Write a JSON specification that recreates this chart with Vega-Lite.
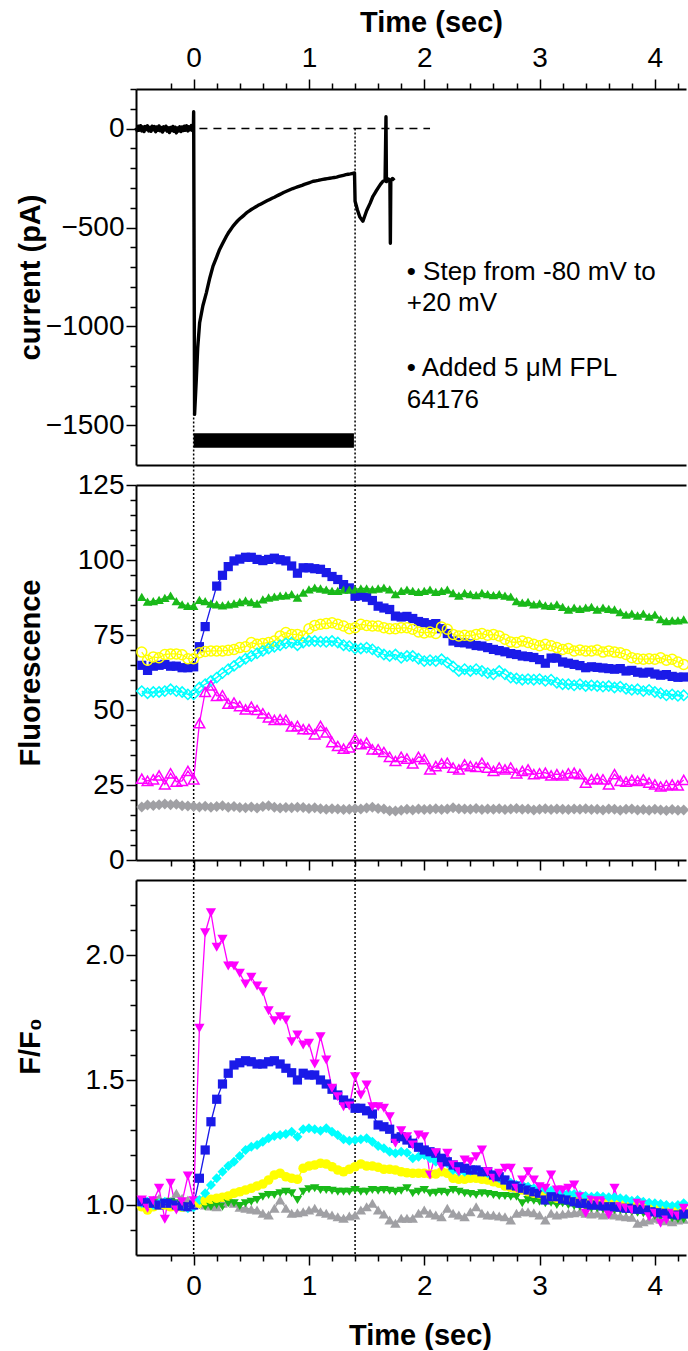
{
  "$schema": "https://vega.github.io/schema/vega-lite/v6.json",
  "padding": {"left": 16, "top": 8, "right": 0, "bottom": 0},
  "background": "white",
  "spacing": 20,
  "bounds": "flush",
  "resolve": {"scale": {"shape": "independent", "size": "independent"}},
  "config": {
    "font": "Liberation Sans",
    "view": {"stroke": null},
    "axis": {
      "grid": false,
      "domainColor": "black",
      "domainWidth": 2,
      "tickColor": "black",
      "tickWidth": 1.5,
      "labelColor": "black",
      "titleColor": "black",
      "labelFont": "Liberation Sans",
      "titleFont": "Liberation Sans",
      "labelFontSize": 28,
      "titleFontSize": 29,
      "titleFontWeight": "bold",
      "labelFlush": false,
      "labelOverlap": false
    }
  },
  "datasets": {
    "cur": [
      {"t": -0.5, "I": 5}, {"t": -0.49, "I": -10}, {"t": -0.48, "I": 12}, {"t": -0.47, "I": -8}, {"t": -0.46, "I": 15},
      {"t": -0.45, "I": -12}, {"t": -0.44, "I": 8}, {"t": -0.43, "I": -15}, {"t": -0.42, "I": 10}, {"t": -0.41, "I": -5},
      {"t": -0.4, "I": 14}, {"t": -0.39, "I": -12}, {"t": -0.38, "I": 6}, {"t": -0.37, "I": -14}, {"t": -0.36, "I": 12},
      {"t": -0.35, "I": -6}, {"t": -0.34, "I": 10}, {"t": -0.33, "I": -16}, {"t": -0.32, "I": 8}, {"t": -0.31, "I": -9},
      {"t": -0.3, "I": 13}, {"t": -0.29, "I": -11}, {"t": -0.28, "I": 5}, {"t": -0.27, "I": -18}, {"t": -0.26, "I": 9},
      {"t": -0.25, "I": -7}, {"t": -0.24, "I": 12}, {"t": -0.23, "I": -13}, {"t": -0.22, "I": 4}, {"t": -0.21, "I": -20},
      {"t": -0.2, "I": 6}, {"t": -0.19, "I": -10}, {"t": -0.18, "I": 11}, {"t": -0.17, "I": -14}, {"t": -0.16, "I": 7},
      {"t": -0.15, "I": -22}, {"t": -0.14, "I": 3}, {"t": -0.13, "I": -12}, {"t": -0.12, "I": 9}, {"t": -0.11, "I": -15},
      {"t": -0.1, "I": 8}, {"t": -0.09, "I": -10}, {"t": -0.08, "I": 12}, {"t": -0.07, "I": -8}, {"t": -0.06, "I": 14},
      {"t": -0.05, "I": -12}, {"t": -0.04, "I": 9}, {"t": -0.03, "I": -6}, {"t": -0.02, "I": 15}, {"t": -0.01, "I": -10},
      {"t": -0.002, "I": 5}, {"t": 0, "I": 85}, {"t": 0.008, "I": -1444}, {"t": 0.023, "I": -1268}, {"t": 0.035, "I": -1110},
      {"t": 0.052, "I": -981}, {"t": 0.08, "I": -895}, {"t": 0.11, "I": -830}, {"t": 0.14, "I": -755}, {"t": 0.168, "I": -695},
      {"t": 0.2, "I": -648}, {"t": 0.225, "I": -611}, {"t": 0.25, "I": -582}, {"t": 0.284, "I": -544},
      {"t": 0.30, "I": -528}, {"t": 0.32, "I": -511}, {"t": 0.34, "I": -494}, {"t": 0.36, "I": -480}, {"t": 0.38, "I": -467},
      {"t": 0.40, "I": -456}, {"t": 0.42, "I": -446}, {"t": 0.44, "I": -436}, {"t": 0.46, "I": -425}, {"t": 0.48, "I": -417},
      {"t": 0.50, "I": -409}, {"t": 0.52, "I": -402}, {"t": 0.54, "I": -395}, {"t": 0.56, "I": -388}, {"t": 0.58, "I": -382},
      {"t": 0.60, "I": -376}, {"t": 0.62, "I": -370}, {"t": 0.64, "I": -364}, {"t": 0.66, "I": -358}, {"t": 0.68, "I": -352},
      {"t": 0.70, "I": -347}, {"t": 0.72, "I": -341}, {"t": 0.74, "I": -335}, {"t": 0.76, "I": -329}, {"t": 0.78, "I": -323},
      {"t": 0.80, "I": -318}, {"t": 0.82, "I": -313}, {"t": 0.84, "I": -308}, {"t": 0.86, "I": -303}, {"t": 0.88, "I": -299},
      {"t": 0.90, "I": -295}, {"t": 0.92, "I": -291}, {"t": 0.94, "I": -287}, {"t": 0.96, "I": -282}, {"t": 0.98, "I": -278},
      {"t": 1.00, "I": -274}, {"t": 1.02, "I": -270}, {"t": 1.04, "I": -266}, {"t": 1.06, "I": -264}, {"t": 1.08, "I": -262},
      {"t": 1.10, "I": -259}, {"t": 1.12, "I": -257}, {"t": 1.14, "I": -255}, {"t": 1.16, "I": -253}, {"t": 1.18, "I": -251},
      {"t": 1.20, "I": -249}, {"t": 1.22, "I": -247}, {"t": 1.24, "I": -245}, {"t": 1.26, "I": -242}, {"t": 1.28, "I": -239},
      {"t": 1.30, "I": -236}, {"t": 1.32, "I": -233}, {"t": 1.34, "I": -231}, {"t": 1.36, "I": -229}, {"t": 1.38, "I": -226},
      {"t": 1.395, "I": -224}, {"t": 1.4, "I": -367}, {"t": 1.42, "I": -410}, {"t": 1.44, "I": -445}, {"t": 1.468, "I": -468},
      {"t": 1.5, "I": -415}, {"t": 1.53, "I": -378}, {"t": 1.555, "I": -342}, {"t": 1.58, "I": -318}, {"t": 1.6, "I": -300},
      {"t": 1.62, "I": -282}, {"t": 1.642, "I": -266}, {"t": 1.66, "I": -262}, {"t": 1.668, "I": 60}, {"t": 1.672, "I": -268},
      {"t": 1.69, "I": -255}, {"t": 1.702, "I": -262}, {"t": 1.706, "I": -580}, {"t": 1.71, "I": -262}, {"t": 1.725, "I": -252},
      {"t": 1.74, "I": -262}
    ],
    "zeroline": [{"t": 0.05, "I": 0}, {"t": 2.05, "I": 0}],
    "bar": [{"t1": 0, "t2": 1.39, "y1": -1540, "y2": -1613}],
    "notes": [
      {"t": 1.848, "I": -723, "label": "• Step from -80 mV to"},
      {"t": 1.848, "I": -881, "label": "+20 mV"},
      {"t": 1.848, "I": -1210, "label": "• Added 5 μM FPL"},
      {"t": 1.848, "I": -1372, "label": "64176"}
    ],
    "rulesTop": [{"t": 0, "y1": -1440, "y2": -1801}, {"t": 1.4, "y1": 0, "y2": -1801}],
    "rulesMid": [{"t": 0, "y1": 125, "y2": -6.7}, {"t": 1.4, "y1": 125, "y2": -6.7}],
    "rulesBot": [{"t": 0, "y1": 2.3, "y2": 0.8}, {"t": 1.4, "y1": 2.3, "y2": 0.8}],
    "fl": [
      {"t": -0.45, "blue": 64.9, "green": 87.7, "yellow": 69.3, "cyan": 56.3, "magenta": 27.1, "gray": 17.7},
      {"t": -0.40, "blue": 63.2, "green": 86.1, "yellow": 66.6, "cyan": 55.6, "magenta": 26.4, "gray": 18.3},
      {"t": -0.35, "blue": 64.6, "green": 86.3, "yellow": 67.7, "cyan": 56.0, "magenta": 26.9, "gray": 18.2},
      {"t": -0.30, "blue": 64.9, "green": 86.7, "yellow": 67.4, "cyan": 56.0, "magenta": 28.2, "gray": 18.4},
      {"t": -0.25, "blue": 65.2, "green": 87.4, "yellow": 68.5, "cyan": 56.3, "magenta": 25.2, "gray": 18.7},
      {"t": -0.20, "blue": 64.6, "green": 88.1, "yellow": 68.7, "cyan": 56.9, "magenta": 28.9, "gray": 18.4},
      {"t": -0.15, "blue": 64.6, "green": 86.3, "yellow": 68.7, "cyan": 56.3, "magenta": 26.1, "gray": 18.6},
      {"t": -0.10, "blue": 64.1, "green": 85.2, "yellow": 68.4, "cyan": 56.0, "magenta": 26.4, "gray": 18.1},
      {"t": -0.05, "blue": 64.1, "green": 84.7, "yellow": 67.1, "cyan": 55.2, "magenta": 29.7, "gray": 18.0},
      {"t": 0.00, "blue": 64.4, "green": 84.7, "yellow": 67.1, "cyan": 55.2, "magenta": 26.9, "gray": 17.8},
      {"t": 0.05, "blue": 71.1, "green": 86.7, "yellow": 69.1, "cyan": 57.5, "magenta": 45.6, "gray": 17.7},
      {"t": 0.10, "blue": 77.8, "green": 86.3, "yellow": 69.5, "cyan": 58.6, "magenta": 56.0, "gray": 17.9},
      {"t": 0.15, "green": 85.5, "yellow": 69.7, "cyan": 59.7, "magenta": 58.2, "gray": 17.6},
      {"t": 0.20, "blue": 91.3, "green": 85.2, "yellow": 69.7, "cyan": 60.8, "magenta": 54.7, "gray": 17.8},
      {"t": 0.25, "blue": 94.9, "green": 84.9, "yellow": 69.7, "cyan": 62.3, "magenta": 54.9, "gray": 18.1},
      {"t": 0.30, "blue": 97.8, "green": 85.2, "yellow": 69.9, "cyan": 63.6, "magenta": 52.1, "gray": 17.6},
      {"t": 0.35, "blue": 99.7, "green": 85.5, "yellow": 70.2, "cyan": 64.7, "magenta": 52.5, "gray": 17.8},
      {"t": 0.40, "blue": 100.3, "green": 86.0, "yellow": 70.8, "cyan": 66.0, "magenta": 51.3, "gray": 17.5},
      {"t": 0.45, "blue": 100.9, "green": 86.5, "yellow": 71.1, "cyan": 67.1, "magenta": 50.2, "gray": 17.4},
      {"t": 0.50, "blue": 100.9, "green": 86.0, "yellow": 72.5, "cyan": 68.0, "magenta": 51.1, "gray": 17.7},
      {"t": 0.55, "blue": 100.2, "green": 85.5, "yellow": 71.9, "cyan": 68.9, "magenta": 50.0, "gray": 17.3},
      {"t": 0.60, "blue": 99.8, "green": 86.9, "yellow": 72.2, "cyan": 69.7, "magenta": 48.9, "gray": 17.8},
      {"t": 0.65, "blue": 100.2, "green": 87.5, "yellow": 72.5, "cyan": 70.5, "magenta": 47.5, "gray": 18.1},
      {"t": 0.70, "blue": 100.6, "green": 87.8, "yellow": 73.0, "cyan": 71.1, "magenta": 46.7, "gray": 17.6},
      {"t": 0.75, "blue": 100.1, "green": 88.1, "yellow": 74.7, "cyan": 71.6, "magenta": 46.9, "gray": 17.3},
      {"t": 0.80, "blue": 99.7, "green": 88.2, "yellow": 75.8, "cyan": 72.2, "magenta": 46.7, "gray": 17.5},
      {"t": 0.85, "blue": 98.0, "green": 88.6, "yellow": 75.2, "cyan": 72.5, "magenta": 44.5, "gray": 17.4},
      {"t": 0.90, "blue": 95.6, "green": 87.5, "yellow": 75.2, "cyan": 71.6, "magenta": 44.7, "gray": 17.6},
      {"t": 0.95, "blue": 97.4, "green": 89.1, "yellow": 74.7, "cyan": 72.5, "magenta": 43.6, "gray": 17.5},
      {"t": 1.00, "blue": 97.4, "green": 90.2, "yellow": 77.1, "cyan": 73.0, "magenta": 43.6, "gray": 17.2},
      {"t": 1.05, "blue": 97.1, "green": 90.8, "yellow": 78.2, "cyan": 73.0, "magenta": 41.9, "gray": 17.4},
      {"t": 1.10, "blue": 96.9, "green": 90.5, "yellow": 78.6, "cyan": 72.8, "magenta": 44.7, "gray": 17.1},
      {"t": 1.15, "blue": 95.8, "green": 90.1, "yellow": 78.8, "cyan": 72.7, "magenta": 42.5, "gray": 16.9},
      {"t": 1.20, "blue": 94.5, "green": 89.7, "yellow": 79.1, "cyan": 73.0, "magenta": 39.3, "gray": 17.1},
      {"t": 1.25, "blue": 93.5, "green": 89.7, "yellow": 78.6, "cyan": 72.5, "magenta": 38.0, "gray": 17.0},
      {"t": 1.30, "blue": 91.8, "green": 90.1, "yellow": 78.0, "cyan": 71.6, "magenta": 37.1, "gray": 16.8},
      {"t": 1.35, "blue": 90.7, "green": 90.1, "yellow": 77.1, "cyan": 71.3, "magenta": 37.5, "gray": 16.9},
      {"t": 1.40, "blue": 87.9, "green": 90.2, "yellow": 77.4, "cyan": 70.5, "magenta": 40.5, "gray": 17.1},
      {"t": 1.45, "blue": 88.1, "green": 90.5, "yellow": 78.6, "cyan": 70.5, "magenta": 38.6, "gray": 17.0},
      {"t": 1.50, "blue": 87.6, "green": 90.5, "yellow": 78.2, "cyan": 70.8, "magenta": 39.1, "gray": 17.3},
      {"t": 1.55, "blue": 86.5, "green": 90.2, "yellow": 78.0, "cyan": 70.2, "magenta": 36.9, "gray": 17.6},
      {"t": 1.60, "blue": 84.6, "green": 90.5, "yellow": 78.0, "cyan": 69.3, "magenta": 36.9, "gray": 17.2},
      {"t": 1.65, "blue": 84.0, "green": 90.8, "yellow": 77.4, "cyan": 68.5, "magenta": 36.0, "gray": 17.0},
      {"t": 1.70, "blue": 83.5, "green": 90.2, "yellow": 77.1, "cyan": 68.0, "magenta": 34.4, "gray": 16.4},
      {"t": 1.75, "blue": 81.3, "green": 88.6, "yellow": 77.1, "cyan": 68.5, "magenta": 33.0, "gray": 16.3},
      {"t": 1.80, "blue": 81.0, "green": 89.7, "yellow": 77.4, "cyan": 67.4, "magenta": 34.4, "gray": 16.6},
      {"t": 1.85, "blue": 81.2, "green": 90.1, "yellow": 77.4, "cyan": 68.0, "magenta": 33.8, "gray": 16.9},
      {"t": 1.90, "blue": 80.5, "green": 89.7, "yellow": 76.9, "cyan": 68.0, "magenta": 32.2, "gray": 16.7},
      {"t": 1.95, "blue": 79.5, "green": 89.4, "yellow": 76.0, "cyan": 67.1, "magenta": 34.4, "gray": 17.0},
      {"t": 2.00, "blue": 79.1, "green": 89.7, "yellow": 75.7, "cyan": 66.3, "magenta": 33.6, "gray": 16.8},
      {"t": 2.05, "blue": 78.5, "green": 90.1, "yellow": 76.0, "cyan": 66.6, "magenta": 30.2, "gray": 16.9},
      {"t": 2.10, "blue": 78.8, "green": 89.4, "yellow": 75.5, "cyan": 66.3, "magenta": 31.3, "gray": 17.1},
      {"t": 2.15, "blue": 77.1, "green": 89.7, "yellow": 77.7, "cyan": 66.9, "magenta": 32.2, "gray": 16.8},
      {"t": 2.20, "blue": 75.5, "green": 90.1, "yellow": 76.9, "cyan": 65.8, "magenta": 32.4, "gray": 17.0},
      {"t": 2.25, "blue": 73.0, "green": 89.0, "yellow": 75.2, "cyan": 64.5, "magenta": 30.8, "gray": 17.4},
      {"t": 2.30, "blue": 72.5, "green": 88.1, "yellow": 74.7, "cyan": 63.0, "magenta": 30.2, "gray": 17.1},
      {"t": 2.35, "blue": 72.4, "green": 89.0, "yellow": 74.9, "cyan": 63.6, "magenta": 31.9, "gray": 17.0},
      {"t": 2.40, "blue": 72.0, "green": 88.6, "yellow": 74.7, "cyan": 63.0, "magenta": 31.3, "gray": 16.9},
      {"t": 2.45, "blue": 71.5, "green": 88.3, "yellow": 75.2, "cyan": 63.6, "magenta": 31.0, "gray": 17.2},
      {"t": 2.50, "blue": 71.3, "green": 89.0, "yellow": 75.5, "cyan": 63.0, "magenta": 32.4, "gray": 16.8},
      {"t": 2.55, "blue": 70.8, "green": 88.6, "yellow": 74.9, "cyan": 62.3, "magenta": 30.8, "gray": 17.0},
      {"t": 2.60, "blue": 70.2, "green": 88.3, "yellow": 75.2, "cyan": 61.9, "magenta": 29.7, "gray": 16.9},
      {"t": 2.65, "blue": 69.8, "green": 88.6, "yellow": 74.7, "cyan": 63.0, "magenta": 30.8, "gray": 17.1},
      {"t": 2.70, "blue": 69.4, "green": 88.1, "yellow": 73.6, "cyan": 61.9, "magenta": 30.2, "gray": 16.8},
      {"t": 2.75, "blue": 68.8, "green": 87.8, "yellow": 72.7, "cyan": 60.8, "magenta": 30.8, "gray": 17.0},
      {"t": 2.80, "blue": 68.5, "green": 86.3, "yellow": 72.5, "cyan": 60.5, "magenta": 28.9, "gray": 17.2},
      {"t": 2.85, "blue": 68.0, "green": 85.8, "yellow": 73.0, "cyan": 60.1, "magenta": 29.7, "gray": 16.9},
      {"t": 2.90, "blue": 67.8, "green": 86.0, "yellow": 72.5, "cyan": 60.3, "magenta": 30.2, "gray": 17.0},
      {"t": 2.95, "blue": 67.5, "green": 85.2, "yellow": 71.9, "cyan": 60.1, "magenta": 28.6, "gray": 16.7},
      {"t": 3.00, "blue": 66.8, "green": 85.5, "yellow": 71.4, "cyan": 60.3, "magenta": 28.9, "gray": 16.9},
      {"t": 3.05, "blue": 65.6, "green": 84.9, "yellow": 71.9, "cyan": 59.7, "magenta": 29.1, "gray": 17.1},
      {"t": 3.10, "blue": 67.3, "green": 84.7, "yellow": 71.4, "cyan": 60.1, "magenta": 28.2, "gray": 16.8},
      {"t": 3.15, "blue": 67.3, "green": 85.2, "yellow": 70.8, "cyan": 59.1, "magenta": 28.6, "gray": 17.0},
      {"t": 3.20, "blue": 66.0, "green": 84.4, "yellow": 70.2, "cyan": 58.6, "magenta": 28.2, "gray": 16.9},
      {"t": 3.25, "blue": 65.6, "green": 83.5, "yellow": 70.5, "cyan": 58.6, "magenta": 28.9, "gray": 16.8},
      {"t": 3.30, "blue": 65.2, "green": 84.1, "yellow": 69.7, "cyan": 58.2, "magenta": 29.1, "gray": 17.0},
      {"t": 3.35, "blue": 64.8, "green": 83.7, "yellow": 70.0, "cyan": 58.6, "magenta": 28.6, "gray": 16.9},
      {"t": 3.40, "blue": 64.1, "green": 84.1, "yellow": 69.7, "cyan": 58.0, "magenta": 25.8, "gray": 17.1},
      {"t": 3.45, "blue": 64.4, "green": 84.4, "yellow": 69.7, "cyan": 58.2, "magenta": 26.9, "gray": 16.8},
      {"t": 3.50, "blue": 64.2, "green": 83.5, "yellow": 70.0, "cyan": 58.0, "magenta": 27.1, "gray": 16.9},
      {"t": 3.55, "blue": 64.0, "green": 84.1, "yellow": 69.3, "cyan": 57.8, "magenta": 26.9, "gray": 16.7},
      {"t": 3.60, "blue": 63.8, "green": 83.7, "yellow": 69.7, "cyan": 58.0, "magenta": 25.2, "gray": 17.0},
      {"t": 3.65, "blue": 63.6, "green": 83.5, "yellow": 69.3, "cyan": 57.5, "magenta": 28.6, "gray": 16.9},
      {"t": 3.70, "blue": 63.8, "green": 82.6, "yellow": 69.1, "cyan": 57.8, "magenta": 26.4, "gray": 16.6},
      {"t": 3.75, "blue": 63.0, "green": 81.8, "yellow": 68.5, "cyan": 57.1, "magenta": 26.1, "gray": 16.9},
      {"t": 3.80, "blue": 63.2, "green": 82.1, "yellow": 67.4, "cyan": 56.7, "magenta": 26.7, "gray": 17.0},
      {"t": 3.85, "blue": 62.6, "green": 81.5, "yellow": 67.1, "cyan": 56.9, "magenta": 26.4, "gray": 16.7},
      {"t": 3.90, "blue": 62.3, "green": 82.1, "yellow": 66.9, "cyan": 56.3, "magenta": 26.9, "gray": 16.8},
      {"t": 3.95, "blue": 62.6, "green": 81.1, "yellow": 67.1, "cyan": 56.7, "magenta": 25.8, "gray": 16.6},
      {"t": 4.00, "blue": 62.0, "green": 81.8, "yellow": 66.9, "cyan": 56.0, "magenta": 25.2, "gray": 16.9},
      {"t": 4.05, "blue": 61.6, "green": 80.3, "yellow": 67.4, "cyan": 55.6, "magenta": 24.5, "gray": 16.7},
      {"t": 4.10, "blue": 61.8, "green": 79.6, "yellow": 66.6, "cyan": 54.9, "magenta": 24.9, "gray": 16.5},
      {"t": 4.15, "blue": 61.2, "green": 79.9, "yellow": 66.9, "cyan": 55.2, "magenta": 25.2, "gray": 16.8},
      {"t": 4.20, "blue": 60.9, "green": 79.9, "yellow": 66.0, "cyan": 54.7, "magenta": 24.9, "gray": 16.6},
      {"t": 4.25, "blue": 61.0, "green": 80.2, "yellow": 65.2, "cyan": 54.9, "magenta": 26.7, "gray": 16.7}
    ],
    "rt": [
      {"t": -0.45, "magenta": 1.020, "blue": 1.013, "cyan": 1.007, "yellow": 0.993, "green": 1.013, "gray": 1.007},
      {"t": -0.40, "magenta": 0.987, "blue": 1.009, "cyan": 1.013, "yellow": 0.980, "green": 1.007, "gray": 1.013},
      {"t": -0.35, "magenta": 1.017, "blue": 1.007, "cyan": 1.000, "yellow": 0.993, "green": 1.004, "gray": 1.020},
      {"t": -0.30, "magenta": 1.067, "blue": 1.000, "cyan": 1.007, "yellow": 1.000, "green": 1.007, "gray": 1.027},
      {"t": -0.25, "magenta": 0.943, "blue": 1.007, "cyan": 1.013, "yellow": 1.000, "green": 1.009, "gray": 1.009},
      {"t": -0.20, "magenta": 1.087, "blue": 1.007, "cyan": 1.007, "yellow": 0.993, "green": 1.013, "gray": 1.013},
      {"t": -0.15, "magenta": 0.980, "blue": 1.000, "cyan": 1.000, "yellow": 0.993, "green": 1.007, "gray": 1.047},
      {"t": -0.10, "magenta": 1.013, "blue": 0.996, "cyan": 0.993, "yellow": 0.991, "green": 1.000, "gray": 1.027},
      {"t": -0.05, "magenta": 1.116, "blue": 0.993, "cyan": 0.987, "yellow": 0.993, "green": 0.996, "gray": 1.020},
      {"t": 0.00, "magenta": 1.017, "blue": 1.000, "cyan": 0.991, "yellow": 1.000, "green": 1.000, "gray": 1.007},
      {"t": 0.05, "magenta": 1.707, "blue": 1.107, "cyan": 1.020, "yellow": 1.007, "green": 1.000, "gray": 1.007},
      {"t": 0.10, "magenta": 2.089, "blue": 1.220, "cyan": 1.047, "yellow": 1.017, "green": 0.993, "gray": 1.000},
      {"t": 0.15, "magenta": 2.169, "blue": 1.333, "cyan": 1.080, "yellow": 1.023, "green": 0.993, "gray": 0.996},
      {"t": 0.20, "magenta": 2.031, "blue": 1.423, "cyan": 1.107, "yellow": 1.027, "green": 1.000, "gray": 0.993},
      {"t": 0.25, "magenta": 2.063, "blue": 1.484, "cyan": 1.133, "yellow": 1.031, "green": 0.993, "gray": 1.007},
      {"t": 0.30, "magenta": 1.956, "blue": 1.527, "cyan": 1.156, "yellow": 1.036, "green": 1.007, "gray": 1.013},
      {"t": 0.35, "magenta": 1.956, "blue": 1.560, "cyan": 1.173, "yellow": 1.047, "green": 1.007, "gray": 1.007},
      {"t": 0.40, "magenta": 1.927, "blue": 1.569, "cyan": 1.196, "yellow": 1.053, "green": 0.996, "gray": 0.991},
      {"t": 0.45, "magenta": 1.884, "blue": 1.577, "cyan": 1.220, "yellow": 1.060, "green": 1.007, "gray": 0.987},
      {"t": 0.50, "magenta": 1.911, "blue": 1.573, "cyan": 1.233, "yellow": 1.067, "green": 1.013, "gray": 0.983},
      {"t": 0.55, "magenta": 1.876, "blue": 1.564, "cyan": 1.240, "yellow": 1.076, "green": 1.020, "gray": 0.980},
      {"t": 0.60, "magenta": 1.853, "blue": 1.564, "cyan": 1.253, "yellow": 1.084, "green": 1.033, "gray": 0.967},
      {"t": 0.65, "magenta": 1.777, "blue": 1.573, "cyan": 1.267, "yellow": 1.100, "green": 1.040, "gray": 0.960},
      {"t": 0.70, "magenta": 1.737, "blue": 1.577, "cyan": 1.276, "yellow": 1.120, "green": 1.040, "gray": 0.987},
      {"t": 0.75, "magenta": 1.753, "blue": 1.564, "cyan": 1.280, "yellow": 1.127, "green": 1.047, "gray": 1.020},
      {"t": 0.80, "magenta": 1.740, "blue": 1.547, "cyan": 1.284, "yellow": 1.113, "green": 1.053, "gray": 0.987},
      {"t": 0.85, "magenta": 1.653, "blue": 1.529, "cyan": 1.293, "yellow": 1.107, "green": 1.047, "gray": 0.967},
      {"t": 0.90, "magenta": 1.680, "blue": 1.500, "cyan": 1.273, "yellow": 1.103, "green": 1.020, "gray": 0.969},
      {"t": 0.95, "magenta": 1.640, "blue": 1.527, "cyan": 1.303, "yellow": 1.147, "green": 1.053, "gray": 0.973},
      {"t": 1.00, "magenta": 1.647, "blue": 1.520, "cyan": 1.307, "yellow": 1.156, "green": 1.063, "gray": 0.980},
      {"t": 1.05, "magenta": 1.564, "blue": 1.520, "cyan": 1.303, "yellow": 1.160, "green": 1.067, "gray": 0.987},
      {"t": 1.10, "magenta": 1.673, "blue": 1.500, "cyan": 1.297, "yellow": 1.167, "green": 1.060, "gray": 0.973},
      {"t": 1.15, "magenta": 1.580, "blue": 1.484, "cyan": 1.307, "yellow": 1.164, "green": 1.060, "gray": 0.967},
      {"t": 1.20, "magenta": 1.467, "blue": 1.463, "cyan": 1.293, "yellow": 1.153, "green": 1.057, "gray": 0.960},
      {"t": 1.25, "magenta": 1.433, "blue": 1.440, "cyan": 1.280, "yellow": 1.140, "green": 1.053, "gray": 0.953},
      {"t": 1.30, "magenta": 1.393, "blue": 1.420, "cyan": 1.263, "yellow": 1.133, "green": 1.053, "gray": 0.947},
      {"t": 1.35, "magenta": 1.396, "blue": 1.407, "cyan": 1.257, "yellow": 1.143, "green": 1.053, "gray": 0.956},
      {"t": 1.40, "magenta": 1.513, "blue": 1.387, "cyan": 1.260, "yellow": 1.153, "green": 1.060, "gray": 0.960},
      {"t": 1.45, "magenta": 1.440, "blue": 1.387, "cyan": 1.263, "yellow": 1.164, "green": 1.053, "gray": 0.980},
      {"t": 1.50, "magenta": 1.480, "blue": 1.377, "cyan": 1.267, "yellow": 1.156, "green": 1.053, "gray": 0.993},
      {"t": 1.55, "magenta": 1.393, "blue": 1.364, "cyan": 1.253, "yellow": 1.156, "green": 1.060, "gray": 1.007},
      {"t": 1.60, "magenta": 1.393, "blue": 1.320, "cyan": 1.236, "yellow": 1.151, "green": 1.057, "gray": 0.980},
      {"t": 1.65, "magenta": 1.387, "blue": 1.313, "cyan": 1.227, "yellow": 1.143, "green": 1.060, "gray": 0.964},
      {"t": 1.70, "magenta": 1.353, "blue": 1.303, "cyan": 1.213, "yellow": 1.143, "green": 1.057, "gray": 0.940},
      {"t": 1.75, "magenta": 1.247, "blue": 1.267, "cyan": 1.207, "yellow": 1.140, "green": 1.053, "gray": 0.927},
      {"t": 1.80, "magenta": 1.297, "blue": 1.273, "cyan": 1.213, "yellow": 1.133, "green": 1.057, "gray": 0.947},
      {"t": 1.85, "magenta": 1.273, "blue": 1.260, "cyan": 1.209, "yellow": 1.129, "green": 1.067, "gray": 0.947},
      {"t": 1.90, "magenta": 1.240, "blue": 1.247, "cyan": 1.187, "yellow": 1.127, "green": 1.047, "gray": 0.947},
      {"t": 1.95, "magenta": 1.280, "blue": 1.231, "cyan": 1.193, "yellow": 1.127, "green": 1.053, "gray": 0.967},
      {"t": 2.00, "magenta": 1.273, "blue": 1.220, "cyan": 1.200, "yellow": 1.127, "green": 1.060, "gray": 0.980},
      {"t": 2.05, "magenta": 1.120, "blue": 1.213, "cyan": 1.187, "yellow": 1.124, "green": 1.047, "gray": 0.967},
      {"t": 2.10, "magenta": 1.209, "blue": 1.207, "cyan": 1.173, "yellow": 1.124, "green": 1.049, "gray": 0.960},
      {"t": 2.15, "magenta": 1.153, "blue": 1.187, "cyan": 1.173, "yellow": 1.133, "green": 1.053, "gray": 0.953},
      {"t": 2.20, "magenta": 1.207, "blue": 1.173, "cyan": 1.167, "yellow": 1.127, "green": 1.049, "gray": 0.987},
      {"t": 2.25, "magenta": 1.160, "blue": 1.160, "cyan": 1.140, "yellow": 1.107, "green": 1.060, "gray": 0.967},
      {"t": 2.30, "magenta": 1.133, "blue": 1.153, "cyan": 1.133, "yellow": 1.103, "green": 1.053, "gray": 0.960},
      {"t": 2.35, "magenta": 1.180, "blue": 1.147, "cyan": 1.133, "yellow": 1.103, "green": 1.047, "gray": 0.953},
      {"t": 2.40, "magenta": 1.173, "blue": 1.140, "cyan": 1.137, "yellow": 1.107, "green": 1.044, "gray": 0.973},
      {"t": 2.45, "magenta": 1.193, "blue": 1.140, "cyan": 1.140, "yellow": 1.107, "green": 1.040, "gray": 0.993},
      {"t": 2.50, "magenta": 1.220, "blue": 1.133, "cyan": 1.133, "yellow": 1.103, "green": 1.047, "gray": 0.967},
      {"t": 2.55, "magenta": 1.133, "blue": 1.133, "cyan": 1.127, "yellow": 1.100, "green": 1.044, "gray": 0.960},
      {"t": 2.60, "magenta": 1.107, "blue": 1.120, "cyan": 1.113, "yellow": 1.093, "green": 1.040, "gray": 0.960},
      {"t": 2.65, "magenta": 1.127, "blue": 1.113, "cyan": 1.107, "yellow": 1.087, "green": 1.036, "gray": 0.956},
      {"t": 2.70, "magenta": 1.147, "blue": 1.100, "cyan": 1.100, "yellow": 1.076, "green": 1.036, "gray": 0.953},
      {"t": 2.75, "magenta": 1.147, "blue": 1.080, "cyan": 1.089, "yellow": 1.071, "green": 1.033, "gray": 0.940},
      {"t": 2.80, "magenta": 1.067, "blue": 1.076, "cyan": 1.080, "yellow": 1.067, "green": 1.033, "gray": 0.967},
      {"t": 2.85, "magenta": 1.100, "blue": 1.067, "cyan": 1.080, "yellow": 1.060, "green": 1.007, "gray": 0.973},
      {"t": 2.90, "magenta": 1.133, "blue": 1.060, "cyan": 1.073, "yellow": 1.053, "green": 1.020, "gray": 0.973},
      {"t": 2.95, "magenta": 1.100, "blue": 1.053, "cyan": 1.067, "yellow": 1.047, "green": 1.017, "gray": 0.969},
      {"t": 3.00, "magenta": 1.073, "blue": 1.047, "cyan": 1.067, "yellow": 1.044, "green": 1.013, "gray": 0.960},
      {"t": 3.05, "magenta": 1.067, "blue": 1.020, "cyan": 1.063, "yellow": 1.040, "green": 1.007, "gray": 0.940},
      {"t": 3.10, "magenta": 1.120, "blue": 1.033, "cyan": 1.057, "yellow": 1.033, "green": 1.009, "gray": 0.967},
      {"t": 3.15, "magenta": 1.060, "blue": 1.033, "cyan": 1.053, "yellow": 1.027, "green": 1.000, "gray": 0.960},
      {"t": 3.20, "magenta": 1.060, "blue": 1.024, "cyan": 1.049, "yellow": 1.027, "green": 1.007, "gray": 0.964},
      {"t": 3.25, "magenta": 1.067, "blue": 1.020, "cyan": 1.047, "yellow": 1.024, "green": 1.000, "gray": 0.967},
      {"t": 3.30, "magenta": 1.080, "blue": 1.013, "cyan": 1.044, "yellow": 1.020, "green": 0.996, "gray": 0.969},
      {"t": 3.35, "magenta": 1.033, "blue": 1.007, "cyan": 1.040, "yellow": 1.017, "green": 0.993, "gray": 0.973},
      {"t": 3.40, "magenta": 0.967, "blue": 1.007, "cyan": 1.036, "yellow": 1.013, "green": 0.991, "gray": 0.967},
      {"t": 3.45, "magenta": 1.020, "blue": 1.000, "cyan": 1.033, "yellow": 1.013, "green": 0.987, "gray": 0.964},
      {"t": 3.50, "magenta": 1.017, "blue": 1.000, "cyan": 1.036, "yellow": 1.013, "green": 0.987, "gray": 0.967},
      {"t": 3.55, "magenta": 1.017, "blue": 0.996, "cyan": 1.033, "yellow": 1.009, "green": 0.983, "gray": 0.960},
      {"t": 3.60, "magenta": 0.960, "blue": 0.993, "cyan": 1.031, "yellow": 1.009, "green": 0.980, "gray": 0.964},
      {"t": 3.65, "magenta": 1.067, "blue": 0.993, "cyan": 1.031, "yellow": 1.007, "green": 0.980, "gray": 0.960},
      {"t": 3.70, "magenta": 0.993, "blue": 0.991, "cyan": 1.027, "yellow": 1.007, "green": 0.980, "gray": 0.956},
      {"t": 3.75, "magenta": 0.987, "blue": 0.987, "cyan": 1.024, "yellow": 1.007, "green": 0.977, "gray": 0.953},
      {"t": 3.80, "magenta": 0.980, "blue": 0.987, "cyan": 1.017, "yellow": 1.004, "green": 0.973, "gray": 0.951},
      {"t": 3.85, "magenta": 1.007, "blue": 0.983, "cyan": 1.020, "yellow": 1.000, "green": 0.969, "gray": 0.927},
      {"t": 3.90, "magenta": 1.000, "blue": 0.983, "cyan": 1.013, "yellow": 1.000, "green": 0.967, "gray": 0.933},
      {"t": 3.95, "magenta": 0.953, "blue": 0.980, "cyan": 1.009, "yellow": 0.996, "green": 0.964, "gray": 0.940},
      {"t": 4.00, "magenta": 0.967, "blue": 0.973, "cyan": 1.007, "yellow": 0.993, "green": 0.956, "gray": 0.947},
      {"t": 4.05, "magenta": 0.927, "blue": 0.969, "cyan": 1.004, "yellow": 0.991, "green": 0.953, "gray": 0.943},
      {"t": 4.10, "magenta": 0.940, "blue": 0.967, "cyan": 1.000, "yellow": 0.987, "green": 0.951, "gray": 0.937},
      {"t": 4.15, "magenta": 0.967, "blue": 0.964, "cyan": 0.996, "yellow": 0.983, "green": 0.947, "gray": 0.933},
      {"t": 4.20, "magenta": 0.956, "blue": 0.960, "cyan": 1.000, "yellow": 0.977, "green": 0.943, "gray": 0.940},
      {"t": 4.25, "magenta": 0.987, "blue": 0.964, "cyan": 1.007, "yellow": 0.973, "green": 0.943, "gray": 0.943}
    ]
  },
  "vconcat": [
    {
      "width": 550,
      "height": 376,
      "layer": [
        {
          "data": {"name": "rulesTop"},
          "mark": {"type": "rule", "color": "black", "strokeWidth": 1.5, "strokeDash": [2, 2]},
          "encoding": {
            "x": {"field": "t", "type": "quantitative", "scale": {"domain": [-0.5, 4.27], "nice": false, "zero": false},
              "axis": {"orient": "top", "values": [0, 1, 2, 3, 4], "tickSize": 10, "labelExpr": "'' + datum.value", "labelBaseline": "middle", "labelPadding": 21, "title": "Time (sec)", "titleX": 295, "titleY": -67, "titleBaseline": "middle"}},
            "y": {"field": "y1", "type": "quantitative", "scale": {"domain": [-1700, 200], "nice": false, "zero": false},
              "axis": {"orient": "left", "values": [-1500, -1000, -500, 0], "tickSize": 10, "labelExpr": "format(datum.value, 'd')", "labelPadding": 2, "title": "current (pA)", "titleX": -106, "titleBaseline": "middle"}},
            "y2": {"field": "y2"}
          }
        },
        {
          "data": {"name": "cur"},
          "mark": {"type": "line", "color": "black", "strokeWidth": 3.4, "strokeJoin": "round"},
          "encoding": {
            "x": {"field": "t", "type": "quantitative", "scale": {"domain": [-0.5, 4.27], "nice": false, "zero": false},
              "axis": {"orient": "top", "values": [-0.2, 0.2, 0.4, 0.6, 0.8, 1.2, 1.4, 1.6, 1.8, 2.2, 2.4, 2.6, 2.8, 3.2, 3.4, 3.6, 3.8, 4.2], "tickSize": 6, "labels": false, "domain": false, "title": null}},
            "y": {"field": "I", "type": "quantitative", "scale": {"domain": [-1700, 200], "nice": false, "zero": false},
              "axis": {"orient": "left", "values": [-1600, -1400, -1300, -1200, -1100, -900, -800, -700, -600, -400, -300, -200, -100, 100, 200], "tickSize": 6, "labels": false, "domain": false, "title": null}}
          }
        },
        {
          "data": {"name": "zeroline"},
          "mark": {"type": "line", "color": "black", "strokeWidth": 1.5, "strokeDash": [8, 6]},
          "encoding": {
            "x": {"field": "t", "type": "quantitative", "scale": {"domain": [-0.5, 4.27], "nice": false, "zero": false},
              "axis": {"orient": "bottom", "ticks": false, "labels": false, "domain": true, "title": null}},
            "y": {"field": "I", "type": "quantitative", "scale": {"domain": [-1700, 200], "nice": false, "zero": false}, "axis": null}
          }
        },
        {
          "data": {"name": "bar"},
          "mark": {"type": "rect", "color": "black"},
          "encoding": {
            "x": {"field": "t1", "type": "quantitative", "scale": {"domain": [-0.5, 4.27], "nice": false, "zero": false}, "axis": null},
            "x2": {"field": "t2"},
            "y": {"field": "y1", "type": "quantitative", "scale": {"domain": [-1700, 200], "nice": false, "zero": false}, "axis": null},
            "y2": {"field": "y2"}
          }
        },
        {
          "data": {"name": "notes"},
          "mark": {"type": "text", "align": "left", "baseline": "middle", "fontSize": 26, "color": "black"},
          "encoding": {
            "x": {"field": "t", "type": "quantitative", "scale": {"domain": [-0.5, 4.27], "nice": false, "zero": false}, "axis": null},
            "y": {"field": "I", "type": "quantitative", "scale": {"domain": [-1700, 200], "nice": false, "zero": false}, "axis": null},
            "text": {"field": "label"}
          }
        }
      ],
      "resolve": {"axis": {"x": "independent", "y": "independent"}}
    },
    {
      "width": 550,
      "height": 375,
      "layer": [
        {
          "data": {"name": "rulesMid"},
          "mark": {"type": "rule", "color": "black", "strokeWidth": 1.5, "strokeDash": [2, 2]},
          "encoding": {
            "x": {"field": "t", "type": "quantitative", "scale": {"domain": [-0.5, 4.27], "nice": false, "zero": false},
              "axis": {"orient": "bottom", "values": [0, 1, 2, 3, 4], "tickSize": 10, "labels": false, "title": null}},
            "y": {"field": "y1", "type": "quantitative", "scale": {"domain": [0, 125], "nice": false, "zero": false},
              "axis": {"orient": "left", "values": [0, 25, 50, 75, 100, 125], "tickSize": 10, "labelExpr": "'' + datum.value", "labelPadding": 2, "title": "Fluorescence", "titleX": -106, "titleBaseline": "middle"}},
            "y2": {"field": "y2"}
          }
        },
        {
          "data": {"name": "fl"},
          "transform": [
            {"fold": ["blue", "green", "yellow", "cyan", "magenta", "gray"], "as": ["series", "value"]},
            {"filter": "isValid(datum.value)"}
          ],
          "mark": {"type": "line", "strokeWidth": 1.3},
          "encoding": {
            "x": {"field": "t", "type": "quantitative", "scale": {"domain": [-0.5, 4.27], "nice": false, "zero": false},
              "axis": {"orient": "bottom", "values": [-0.2, 0.2, 0.4, 0.6, 0.8, 1.2, 1.4, 1.6, 1.8, 2.2, 2.4, 2.6, 2.8, 3.2, 3.4, 3.6, 3.8, 4.2], "tickSize": 6, "labels": false, "domain": false, "title": null}},
            "y": {"field": "value", "type": "quantitative", "scale": {"domain": [0, 125], "nice": false, "zero": false},
              "axis": {"orient": "left", "values": [5, 10, 15, 20, 30, 35, 40, 45, 55, 60, 65, 70, 80, 85, 90, 95, 105, 110, 115, 120], "tickSize": 6, "labels": false, "domain": false, "title": null}},
            "color": {"field": "series", "type": "nominal", "legend": null,
              "scale": {"domain": ["blue", "green", "yellow", "cyan", "magenta", "gray"], "range": ["#1A1AE8", "#19B919", "#FFFF00", "#00FFFF", "#FF00FF", "#A0A0A4"]}}
          }
        },
        {
          "data": {"name": "fl"},
          "transform": [
            {"fold": ["blue", "green", "gray"], "as": ["series", "value"]},
            {"filter": "isValid(datum.value)"}
          ],
          "mark": {"type": "point", "filled": true, "opacity": 1},
          "encoding": {
            "x": {"field": "t", "type": "quantitative", "scale": {"domain": [-0.5, 4.27], "nice": false, "zero": false},
              "axis": {"orient": "top", "ticks": false, "labels": false, "domain": true, "title": null}},
            "y": {"field": "value", "type": "quantitative", "scale": {"domain": [0, 125], "nice": false, "zero": false}, "axis": null},
            "color": {"field": "series", "type": "nominal", "legend": null,
              "scale": {"domain": ["blue", "green", "yellow", "cyan", "magenta", "gray"], "range": ["#1A1AE8", "#19B919", "#FFFF00", "#00FFFF", "#FF00FF", "#A0A0A4"]}},
            "shape": {"field": "series", "type": "nominal", "legend": null,
              "scale": {"domain": ["blue", "green", "yellow", "cyan", "magenta", "gray"], "range": ["square", "triangle-up", "circle", "diamond", "triangle-up", "diamond"]}},
            "size": {"field": "series", "type": "nominal", "legend": null,
              "scale": {"domain": ["blue", "green", "yellow", "cyan", "magenta", "gray"], "range": [85, 120, 90, 80, 120, 80]}}
          }
        },
        {
          "data": {"name": "fl"},
          "transform": [
            {"fold": ["yellow", "cyan", "magenta"], "as": ["series", "value"]},
            {"filter": "isValid(datum.value)"}
          ],
          "mark": {"type": "point", "filled": false, "strokeWidth": 1.5, "opacity": 1},
          "encoding": {
            "x": {"field": "t", "type": "quantitative", "scale": {"domain": [-0.5, 4.27], "nice": false, "zero": false}, "axis": null},
            "y": {"field": "value", "type": "quantitative", "scale": {"domain": [0, 125], "nice": false, "zero": false}, "axis": null},
            "color": {"field": "series", "type": "nominal", "legend": null,
              "scale": {"domain": ["blue", "green", "yellow", "cyan", "magenta", "gray"], "range": ["#1A1AE8", "#19B919", "#FFFF00", "#00FFFF", "#FF00FF", "#A0A0A4"]}},
            "shape": {"field": "series", "type": "nominal", "legend": null,
              "scale": {"domain": ["blue", "green", "yellow", "cyan", "magenta", "gray"], "range": ["square", "triangle-up", "circle", "diamond", "triangle-up", "diamond"]}},
            "size": {"field": "series", "type": "nominal", "legend": null,
              "scale": {"domain": ["blue", "green", "yellow", "cyan", "magenta", "gray"], "range": [85, 120, 90, 80, 120, 80]}}
          }
        }
      ],
      "resolve": {"axis": {"x": "independent", "y": "independent"}}
    },
    {
      "width": 550,
      "height": 375,
      "layer": [
        {
          "data": {"name": "rulesBot"},
          "mark": {"type": "rule", "color": "black", "strokeWidth": 1.5, "strokeDash": [2, 2]},
          "encoding": {
            "x": {"field": "t", "type": "quantitative", "scale": {"domain": [-0.5, 4.27], "nice": false, "zero": false},
              "axis": {"orient": "bottom", "values": [0, 1, 2, 3, 4], "tickSize": 10, "labelExpr": "'' + datum.value", "labelBaseline": "middle", "labelPadding": 21, "title": "Time (sec)", "titleX": 284, "titleY": 80, "titleBaseline": "middle"}},
            "y": {"field": "y1", "type": "quantitative", "scale": {"domain": [0.8, 2.3], "nice": false, "zero": false},
              "axis": {"orient": "left", "values": [1, 1.5, 2], "tickSize": 10, "labelExpr": "format(datum.value, '.1f')", "labelPadding": 2, "title": "F/F₀", "titleX": -106, "titleY": 166, "titleBaseline": "middle"}},
            "y2": {"field": "y2"}
          }
        },
        {
          "data": {"name": "rt"},
          "transform": [
            {"fold": ["blue", "cyan", "yellow", "green", "gray", "magenta"], "as": ["series", "value"]}
          ],
          "mark": {"type": "line", "strokeWidth": 1.3},
          "encoding": {
            "x": {"field": "t", "type": "quantitative", "scale": {"domain": [-0.5, 4.27], "nice": false, "zero": false},
              "axis": {"orient": "bottom", "values": [-0.2, 0.2, 0.4, 0.6, 0.8, 1.2, 1.4, 1.6, 1.8, 2.2, 2.4, 2.6, 2.8, 3.2, 3.4, 3.6, 3.8, 4.2], "tickSize": 6, "labels": false, "domain": false, "title": null}},
            "y": {"field": "value", "type": "quantitative", "scale": {"domain": [0.8, 2.3], "nice": false, "zero": false},
              "axis": {"orient": "left", "values": [0.9, 1.1, 1.2, 1.3, 1.4, 1.6, 1.7, 1.8, 1.9, 2.1, 2.2], "tickSize": 6, "labels": false, "domain": false, "title": null}},
            "color": {"field": "series", "type": "nominal", "legend": null,
              "scale": {"domain": ["blue", "green", "yellow", "cyan", "magenta", "gray"], "range": ["#1A1AE8", "#19B919", "#FFFF00", "#00FFFF", "#FF00FF", "#A0A0A4"]}}
          }
        },
        {
          "data": {"name": "rt"},
          "transform": [
            {"fold": ["gray", "green", "yellow", "cyan", "blue", "magenta"], "as": ["series", "value"]}
          ],
          "mark": {"type": "point", "filled": true, "opacity": 1},
          "encoding": {
            "x": {"field": "t", "type": "quantitative", "scale": {"domain": [-0.5, 4.27], "nice": false, "zero": false},
              "axis": {"orient": "top", "ticks": false, "labels": false, "domain": true, "title": null}},
            "y": {"field": "value", "type": "quantitative", "scale": {"domain": [0.8, 2.3], "nice": false, "zero": false}, "axis": null},
            "color": {"field": "series", "type": "nominal", "legend": null,
              "scale": {"domain": ["blue", "green", "yellow", "cyan", "magenta", "gray"], "range": ["#1A1AE8", "#19B919", "#FFFF00", "#00FFFF", "#FF00FF", "#A0A0A4"]}},
            "shape": {"field": "series", "type": "nominal", "legend": null,
              "scale": {"domain": ["blue", "green", "yellow", "cyan", "magenta", "gray"], "range": ["square", "triangle-down", "circle", "diamond", "triangle-down", "triangle-up"]}},
            "size": {"field": "series", "type": "nominal", "legend": null,
              "scale": {"domain": ["blue", "green", "yellow", "cyan", "magenta", "gray"], "range": [85, 110, 85, 80, 120, 110]}}
          }
        }
      ],
      "resolve": {"axis": {"x": "independent", "y": "independent"}}
    }
  ]
}
